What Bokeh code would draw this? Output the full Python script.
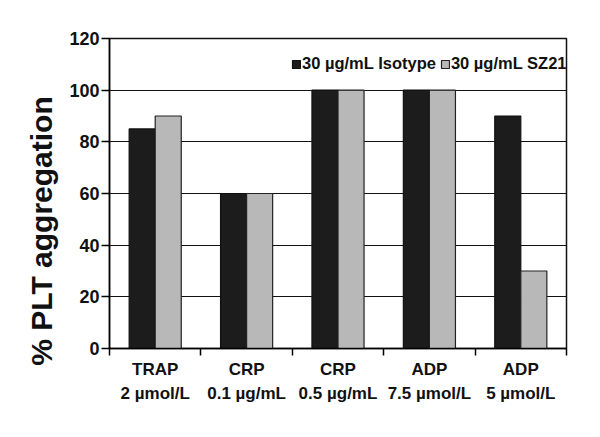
from bokeh.plotting import figure
from bokeh.models import FixedTicker, Legend, LegendItem, ColumnDataSource
from bokeh.embed import file_html
from bokeh.resources import INLINE

categories = ["TRAP\n2 µmol/L", "CRP\n0.1 µg/mL", "CRP\n0.5 µg/mL", "ADP\n7.5 µmol/L", "ADP\n5 µmol/L"]
isotype = [85, 60, 100, 100, 90]
sz21 = [90, 60, 100, 100, 30]
series_names = ["30 µg/mL Isotype", "30 µg/mL SZ21"]
y_ticks = [0, 20, 40, 60, 80, 100, 120]

FONT = "Liberation Sans"
n = len(categories)
centers = [i + 0.5 for i in range(n)]
bw = 0.285

p = figure(width=600, height=437, x_range=(0, n), y_range=(0, 120),
           output_backend="svg", toolbar_location=None,
           min_border_left=109, min_border_right=34, min_border_top=38, min_border_bottom=89)

src1 = ColumnDataSource(dict(x=[c - bw / 2 for c in centers], top=isotype))
src2 = ColumnDataSource(dict(x=[c + bw / 2 for c in centers], top=sz21))
r1 = p.vbar(x="x", top="top", width=bw, source=src1, fill_color="#1c1c1c", line_color="#111111", line_width=1.2)
r2 = p.vbar(x="x", top="top", width=bw, source=src2, fill_color="#b8b8b8", line_color="#222222", line_width=1.2)

p.xgrid.visible = False
p.ygrid.grid_line_color = "#111111"
p.ygrid.grid_line_width = 1.2
p.ygrid.ticker = FixedTicker(ticks=y_ticks)
p.outline_line_color = "#111111"
p.outline_line_width = 1.5

# y axis
p.yaxis.ticker = FixedTicker(ticks=y_ticks)
p.yaxis.major_tick_in = 0
p.yaxis.major_tick_out = 8
p.yaxis.minor_tick_line_color = None
p.yaxis.axis_line_width = 1.5
p.yaxis.major_tick_line_width = 1.5
p.yaxis.major_label_standoff = 2
p.yaxis.major_label_text_font = FONT
p.yaxis.major_label_text_font_style = "bold"
p.yaxis.major_label_text_font_size = "18px"
p.yaxis.major_label_text_color = "#111111"
p.yaxis.axis_label = "%  PLT aggregation" + "\u00a0" * 8
p.yaxis.axis_label_text_font = FONT
p.yaxis.axis_label_text_font_style = "bold"
p.yaxis.axis_label_text_font_size = "30px"
p.yaxis.axis_label_text_color = "#111111"
p.yaxis.axis_label_standoff = 8

# x axis
p.xaxis.ticker = FixedTicker(ticks=centers, minor_ticks=list(range(n + 1)))
p.xaxis.major_label_overrides = {c: lab for c, lab in zip(centers, categories)}
p.xaxis.major_tick_in = 0
p.xaxis.major_tick_out = 0
p.xaxis.minor_tick_in = 0
p.xaxis.minor_tick_out = 7
p.xaxis.minor_tick_line_width = 1.5
p.xaxis.axis_line_width = 1.5
p.xaxis.major_label_standoff = 4
p.xaxis.major_label_text_font = FONT
p.xaxis.major_label_text_font_style = "bold"
p.xaxis.major_label_text_font_size = "17px"
p.xaxis.major_label_text_color = "#111111"
p.xaxis.major_label_text_line_height = 1.3

legend = Legend(items=[LegendItem(label=series_names[0], renderers=[r1]),
                       LegendItem(label=series_names[1], renderers=[r2])],
                orientation="horizontal", location=(182, 275),
                background_fill_alpha=0, border_line_color=None,
                glyph_width=10, glyph_height=10, label_standoff=1, spacing=4,
                padding=0, margin=0, label_text_font=FONT, label_text_font_style="bold",
                label_text_font_size="16.5px", label_text_color="#111111",
                label_height=16)
p.add_layout(legend)

open("out.html", "w").write(file_html(p, INLINE))
